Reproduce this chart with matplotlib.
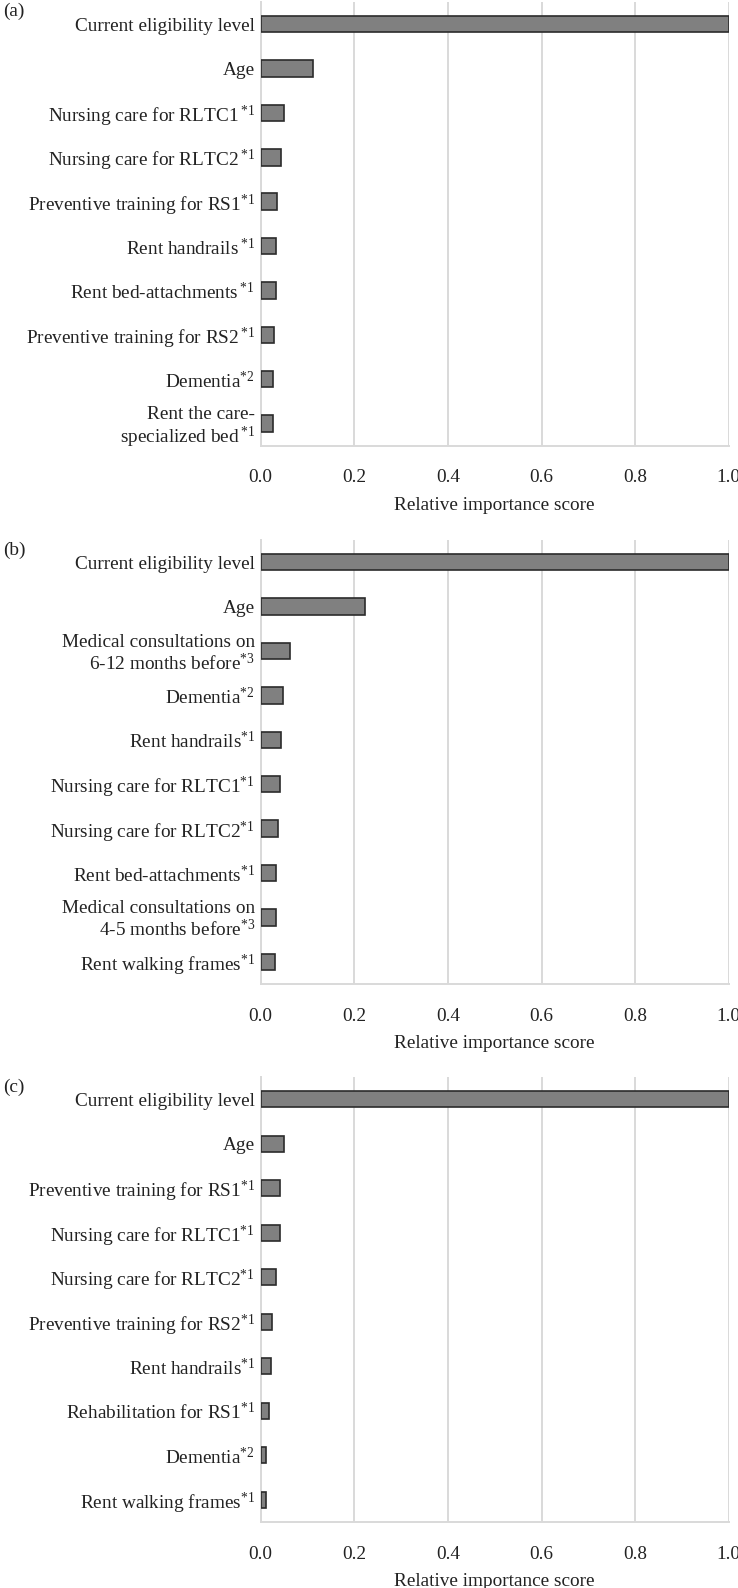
import matplotlib
matplotlib.use("Agg")
import matplotlib.pyplot as plt
from matplotlib.transforms import ScaledTranslation

plt.rcParams['font.family'] = ['Liberation Serif', 'DejaVu Serif']
plt.rcParams['mathtext.fontset'] = 'custom'
plt.rcParams['mathtext.rm'] = 'Liberation Serif'
plt.rcParams['mathtext.it'] = 'Liberation Serif'
plt.rcParams['mathtext.bf'] = 'Liberation Serif'

labels_a = [
    "Current eligibility level",
    "Age",
    "Nursing care for RLTC1$\\,^{*1}$",
    "Nursing care for RLTC2$\\,^{*1}$",
    "Preventive training for RS1$^{*1}$",
    "Rent handrails$\\,^{*1}$",
    "Rent bed-attachments$\\,^{*1}$",
    "Preventive training for RS2$\\,^{*1}$",
    "Dementia$^{*2}$",
    "Rent the care-\nspecialized bed$\\,^{*1}$",
]
values_a = [1.0, 0.111, 0.050, 0.043, 0.034, 0.032, 0.032, 0.029, 0.026, 0.026]

labels_b = [
    "Current eligibility level",
    "Age",
    "Medical consultations on\n6-12 months before$^{*3}$",
    "Dementia$^{*2}$",
    "Rent handrails$^{*1}$",
    "Nursing care for RLTC1$^{*1}$",
    "Nursing care for RLTC2$^{*1}$",
    "Rent bed-attachments$^{*1}$",
    "Medical consultations on\n4-5 months before$^{*3}$",
    "Rent walking frames$^{*1}$",
]
values_b = [1.0, 0.223, 0.062, 0.047, 0.044, 0.041, 0.038, 0.033, 0.032, 0.030]

labels_c = [
    "Current eligibility level",
    "Age",
    "Preventive training for RS1$^{*1}$",
    "Nursing care for RLTC1$^{*1}$",
    "Nursing care for RLTC2$^{*1}$",
    "Preventive training for RS2$^{*1}$",
    "Rent handrails$^{*1}$",
    "Rehabilitation for RS1$^{*1}$",
    "Dementia$^{*2}$",
    "Rent walking frames$^{*1}$",
]
values_c = [1.0, 0.050, 0.041, 0.041, 0.033, 0.024, 0.021, 0.018, 0.012, 0.012]

panel_tags = ["(a)", "(b)", "(c)"]
xticks = [0.0, 0.2, 0.4, 0.6, 0.8, 1.0]
xlabel = "Relative importance score"

W, H = 738, 1588
fig = plt.figure(figsize=(W / 100, H / 100), dpi=100)

# (top_px, bottom_px) of each plot area
boxes = [(2, 445.7), (540, 984), (1077, 1522)]
left_px, right_px = 260.7, 728.7
tag_y = [11, 550, 1087]

FS = 13.9
txt = "#222222"
grid_col = "#d9d9d9"
shift = ScaledTranslation(-3 / 100, 0, fig.dpi_scale_trans)
for (top, bot), labs, vals, tag, ty in zip(boxes, [labels_a, labels_b, labels_c],
                                           [values_a, values_b, values_c], panel_tags, tag_y):
    ax = fig.add_axes([left_px / W, 1 - bot / H, (right_px - left_px) / W, (bot - top) / H])
    n = len(labs)
    pos = list(range(n))
    ax.barh(pos, vals, height=0.37, color="#808080", edgecolor="#2b2b2b", linewidth=1.2, zorder=3)
    ax.set_ylim(n - 0.5, -0.5)
    ax.set_xlim(0, 1.0)
    ax.set_yticks(pos)
    ax.set_yticklabels(labs, fontsize=FS, linespacing=1.1)
    ax.set_xticks(xticks)
    ax.set_xticklabels([f"{t:.1f}" for t in xticks], fontsize=FS)
    for lab in ax.get_xticklabels():
        lab.set_transform(lab.get_transform() + shift)
    ax.tick_params(axis='both', length=0, colors=txt)
    ax.tick_params(axis='y', pad=4)
    ax.tick_params(axis='x', pad=17)
    ax.xaxis.grid(True, color=grid_col, linewidth=1.4, zorder=0)
    ax.set_axisbelow(True)
    for s in ["top", "right"]:
        ax.spines[s].set_visible(False)
    for s in ["left", "bottom"]:
        ax.spines[s].set_color(grid_col)
        ax.spines[s].set_linewidth(1.4)
    ax.set_xlabel(xlabel, fontsize=FS, color=txt, labelpad=7.5)
    fig.text(3 / W, 1 - ty / H, tag, fontsize=FS, ha="left", va="center", color=txt)

fig.savefig("out.png", dpi=100)
